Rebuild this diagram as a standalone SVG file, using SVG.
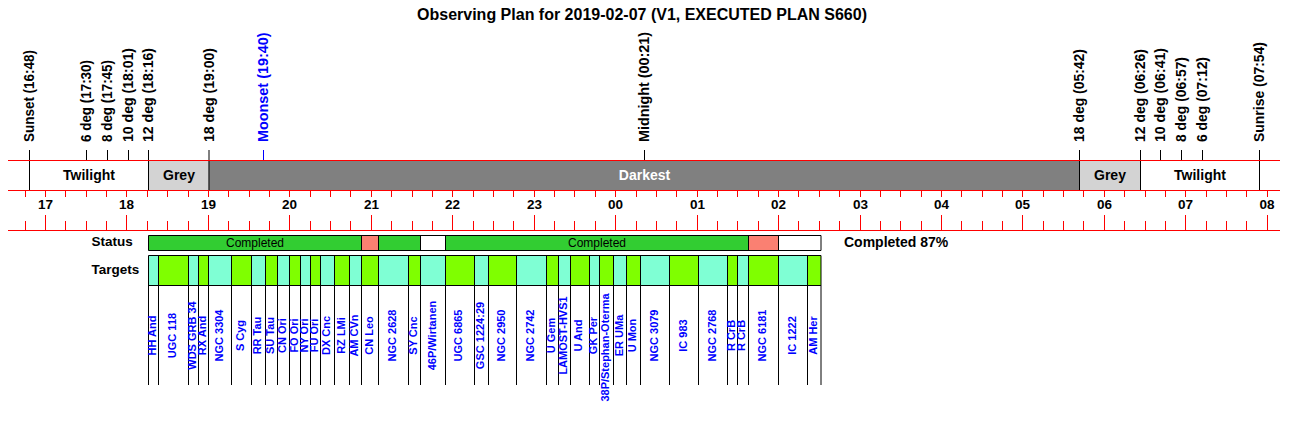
<svg xmlns="http://www.w3.org/2000/svg" width="1299" height="439" viewBox="0 0 1299 439">
<style>
text{font-family:"Liberation Sans",Arial,Helvetica,sans-serif;font-weight:bold;fill:#000}
.title{font-size:16px;text-anchor:middle}
.mk{font-size:14px}
.blue{fill:#0000ff}
.hr{font-size:13.5px;text-anchor:middle}
.band{font-size:14px;text-anchor:middle}
.lbl{font-size:13.5px}
.st{font-size:12px;font-weight:normal;text-anchor:middle}
.pct{font-size:14px}
.tg{font-size:11px;fill:#0000ff;text-anchor:middle}
.red{stroke:#ff0000;stroke-width:1;fill:none}
.blk{stroke:#000;stroke-width:1;fill:none}
.bl{stroke:#0000ff;stroke-width:1;fill:none}
.g{fill:#7fff00}
.a{fill:#7fffd4}
.sg{fill:#32cd32}
.ss{fill:#fa8072}
.sw{fill:#fff}
</style>
<rect width="1299" height="439" fill="#fff"/>
<text class="title" x="642" y="20">Observing Plan for 2019-02-07 (V1, EXECUTED PLAN S660)</text>

<g id="bands">
<rect x="148.5" y="160.5" width="60" height="30" fill="#d3d3d3"/>
<rect x="208.5" y="160.5" width="871" height="30" fill="#808080"/>
<rect x="1079.5" y="160.5" width="61" height="30" fill="#d3d3d3"/>
<text class="band" x="89" y="179.5">Twilight</text>
<text class="band" x="179" y="179.5">Grey</text>
<text class="band" x="644.5" y="179.5" style="fill:#fff">Darkest</text>
<text class="band" x="1110" y="179.5">Grey</text>
<text class="band" x="1200" y="179.5">Twilight</text>
</g>

<g id="markers">
<path class="blk" d="M29.5 150V190M86.5 150V160M107.5 150V160M128.5 150V160M148.5 150V190M209 150V190M644.5 150V160M1079.5 150V190M1140.5 150V190M1160.5 150V160M1181.5 150V160M1202.5 150V160M1259.5 150V190"/>
<path class="bl" d="M263.5 150V160"/>
<text class="mk" transform="translate(34.3,142) rotate(-90)" textLength="92" lengthAdjust="spacingAndGlyphs">Sunset (16:48)</text>
<text class="mk" transform="translate(91.3,142) rotate(-90)" textLength="82" lengthAdjust="spacingAndGlyphs">6 deg (17:30)</text>
<text class="mk" transform="translate(112.3,142) rotate(-90)" textLength="82" lengthAdjust="spacingAndGlyphs">8 deg (17:45)</text>
<text class="mk" transform="translate(133.3,142) rotate(-90)" textLength="94" lengthAdjust="spacingAndGlyphs">10 deg (18:01)</text>
<text class="mk" transform="translate(153.3,142) rotate(-90)" textLength="94" lengthAdjust="spacingAndGlyphs">12 deg (18:16)</text>
<text class="mk" transform="translate(214,142) rotate(-90)" textLength="94" lengthAdjust="spacingAndGlyphs">18 deg (19:00)</text>
<text class="mk blue" transform="translate(268.3,142) rotate(-90)" textLength="109.5" lengthAdjust="spacingAndGlyphs">Moonset (19:40)</text>
<text class="mk" transform="translate(649.3,142) rotate(-90)" textLength="110" lengthAdjust="spacingAndGlyphs">Midnight (00:21)</text>
<text class="mk" transform="translate(1084.3,142) rotate(-90)" textLength="93" lengthAdjust="spacingAndGlyphs">18 deg (05:42)</text>
<text class="mk" transform="translate(1145.3,142) rotate(-90)" textLength="93" lengthAdjust="spacingAndGlyphs">12 deg (06:26)</text>
<text class="mk" transform="translate(1165.3,142) rotate(-90)" textLength="94" lengthAdjust="spacingAndGlyphs">10 deg (06:41)</text>
<text class="mk" transform="translate(1186.3,142) rotate(-90)" textLength="85" lengthAdjust="spacingAndGlyphs">8 deg (06:57)</text>
<text class="mk" transform="translate(1207.3,142) rotate(-90)" textLength="85" lengthAdjust="spacingAndGlyphs">6 deg (07:12)</text>
<text class="mk" transform="translate(1264.3,142) rotate(-90)" textLength="100" lengthAdjust="spacingAndGlyphs">Sunrise (07:54)</text>
</g>

<g id="axis">
<path class="red" d="M8 160.5H1280M8 190.5H1280M8 230.5H1280"/>
<path class="red" d="M25.5 191v6M45.5 191v6M65.5 191v6M86.5 191v6M106.5 191v6M126.5 191v6M147.5 191v6M167.5 191v6M188.5 191v6M208.5 191v6M228.5 191v6M249.5 191v6M269.5 191v6M289.5 191v6M310.5 191v6M330.5 191v6M350.5 191v6M371.5 191v6M391.5 191v6M412.5 191v6M432.5 191v6M452.5 191v6M473.5 191v6M493.5 191v6M513.5 191v6M534.5 191v6M554.5 191v6M574.5 191v6M595.5 191v6M615.5 191v6M636.5 191v6M656.5 191v6M676.5 191v6M697.5 191v6M717.5 191v6M737.5 191v6M758.5 191v6M778.5 191v6M798.5 191v6M819.5 191v6M839.5 191v6M860.5 191v6M880.5 191v6M900.5 191v6M921.5 191v6M941.5 191v6M961.5 191v6M982.5 191v6M1002.5 191v6M1022.5 191v6M1043.5 191v6M1063.5 191v6M1083.5 191v6M1104.5 191v6M1124.5 191v6M1145.5 191v6M1165.5 191v6M1185.5 191v6M1206.5 191v6M1226.5 191v6M1246.5 191v6M1267.5 191v6"/>
<path class="red" d="M25.5 221v9M65.5 221v9M86.5 221v9M106.5 221v9M147.5 221v9M167.5 221v9M188.5 221v9M228.5 221v9M249.5 221v9M269.5 221v9M310.5 221v9M330.5 221v9M350.5 221v9M391.5 221v9M412.5 221v9M432.5 221v9M473.5 221v9M493.5 221v9M513.5 221v9M554.5 221v9M574.5 221v9M595.5 221v9M636.5 221v9M656.5 221v9M676.5 221v9M717.5 221v9M737.5 221v9M758.5 221v9M798.5 221v9M819.5 221v9M839.5 221v9M880.5 221v9M900.5 221v9M921.5 221v9M961.5 221v9M982.5 221v9M1002.5 221v9M1043.5 221v9M1063.5 221v9M1083.5 221v9M1124.5 221v9M1145.5 221v9M1165.5 221v9M1206.5 221v9M1226.5 221v9M1246.5 221v9"/>
<path class="red" d="M45.5 215v15M126.5 215v15M208.5 215v15M289.5 215v15M371.5 215v15M452.5 215v15M534.5 215v15M615.5 215v15M697.5 215v15M778.5 215v15M860.5 215v15M941.5 215v15M1022.5 215v15M1104.5 215v15M1185.5 215v15M1267.5 215v15"/>
<text class="hr" x="45.5" y="209">17</text>
<text class="hr" x="126.5" y="209">18</text>
<text class="hr" x="208.5" y="209">19</text>
<text class="hr" x="289.5" y="209">20</text>
<text class="hr" x="371.5" y="209">21</text>
<text class="hr" x="452.5" y="209">22</text>
<text class="hr" x="534.5" y="209">23</text>
<text class="hr" x="615.5" y="209">00</text>
<text class="hr" x="697.5" y="209">01</text>
<text class="hr" x="778.5" y="209">02</text>
<text class="hr" x="860.5" y="209">03</text>
<text class="hr" x="941.5" y="209">04</text>
<text class="hr" x="1022.5" y="209">05</text>
<text class="hr" x="1104.5" y="209">06</text>
<text class="hr" x="1185.5" y="209">07</text>
<text class="hr" x="1267" y="209">08</text>
</g>

<g id="status">
<text class="lbl" x="91.5" y="246">Status</text>
<rect class="sg" x="148.5" y="235.5" width="213" height="15"/>
<rect class="ss" x="361.5" y="235.5" width="17" height="15"/>
<rect class="sg" x="378.5" y="235.5" width="42" height="15"/>
<rect class="sw" x="420.5" y="235.5" width="25" height="15"/>
<rect class="sg" x="445.5" y="235.5" width="303" height="15"/>
<rect class="ss" x="748.5" y="235.5" width="30" height="15"/>
<rect class="sw" x="778.5" y="235.5" width="42.5" height="15"/>
<path class="blk" d="M148.5 235.5H821V250.5H148.5ZM361.5 235.5V250.5M378.5 235.5V250.5M420.5 235.5V250.5M445.5 235.5V250.5M748.5 235.5V250.5M778.5 235.5V250.5"/>
<text class="st" x="255" y="247">Completed</text>
<text class="st" x="597" y="247">Completed</text>
<text class="pct" x="844" y="246.5">Completed 87%</text>
</g>

<g id="targets">
<text class="lbl" x="91.5" y="273.5">Targets</text>
<g id="target-fills">
<rect class="a" x="148.5" y="255.5" width="10" height="30"/>
<rect class="g" x="158.5" y="255.5" width="30" height="30"/>
<rect class="a" x="188.5" y="255.5" width="10" height="30"/>
<rect class="g" x="198.5" y="255.5" width="10" height="30"/>
<rect class="a" x="208.5" y="255.5" width="23" height="30"/>
<rect class="g" x="231.5" y="255.5" width="20" height="30"/>
<rect class="a" x="251.5" y="255.5" width="14" height="30"/>
<rect class="g" x="265.5" y="255.5" width="12" height="30"/>
<rect class="a" x="277.5" y="255.5" width="12" height="30"/>
<rect class="g" x="289.5" y="255.5" width="11" height="30"/>
<rect class="a" x="300.5" y="255.5" width="10" height="30"/>
<rect class="g" x="310.5" y="255.5" width="10" height="30"/>
<rect class="a" x="320.5" y="255.5" width="14" height="30"/>
<rect class="g" x="334.5" y="255.5" width="15" height="30"/>
<rect class="a" x="349.5" y="255.5" width="12" height="30"/>
<rect class="g" x="361.5" y="255.5" width="17" height="30"/>
<rect class="a" x="378.5" y="255.5" width="30" height="30"/>
<rect class="g" x="408.5" y="255.5" width="12" height="30"/>
<rect class="a" x="420.5" y="255.5" width="25" height="30"/>
<rect class="g" x="445.5" y="255.5" width="29" height="30"/>
<rect class="a" x="474.5" y="255.5" width="14" height="30"/>
<rect class="g" x="488.5" y="255.5" width="28" height="30"/>
<rect class="a" x="516.5" y="255.5" width="30" height="30"/>
<rect class="g" x="546.5" y="255.5" width="12" height="30"/>
<rect class="a" x="558.5" y="255.5" width="12" height="30"/>
<rect class="g" x="570.5" y="255.5" width="19" height="30"/>
<rect class="a" x="589.5" y="255.5" width="10" height="30"/>
<rect class="g" x="599.5" y="255.5" width="14" height="30"/>
<rect class="a" x="613.5" y="255.5" width="13" height="30"/>
<rect class="g" x="626.5" y="255.5" width="14" height="30"/>
<rect class="a" x="640.5" y="255.5" width="29" height="30"/>
<rect class="g" x="669.5" y="255.5" width="29" height="30"/>
<rect class="a" x="698.5" y="255.5" width="29" height="30"/>
<rect class="g" x="727.5" y="255.5" width="10" height="30"/>
<rect class="a" x="737.5" y="255.5" width="11" height="30"/>
<rect class="g" x="748.5" y="255.5" width="30" height="30"/>
<rect class="a" x="778.5" y="255.5" width="29" height="30"/>
<rect class="g" x="807.5" y="255.5" width="13.5" height="30"/>
</g>
<path class="blk" d="M148.5 255.5H821M148.5 285.5H821M148.5 255.5V385M158.5 255.5V385M188.5 255.5V385M198.5 255.5V385M208.5 255.5V385M231.5 255.5V385M251.5 255.5V385M265.5 255.5V385M277.5 255.5V385M289.5 255.5V385M300.5 255.5V385M310.5 255.5V385M320.5 255.5V385M334.5 255.5V385M349.5 255.5V385M361.5 255.5V385M378.5 255.5V385M408.5 255.5V385M420.5 255.5V385M445.5 255.5V385M474.5 255.5V385M488.5 255.5V385M516.5 255.5V385M546.5 255.5V385M558.5 255.5V385M570.5 255.5V385M589.5 255.5V385M599.5 255.5V385M613.5 255.5V385M626.5 255.5V385M640.5 255.5V385M669.5 255.5V385M698.5 255.5V385M727.5 255.5V385M737.5 255.5V385M748.5 255.5V385M778.5 255.5V385M807.5 255.5V385M821 255.5V385"/>
<g id="target-labels">
<text class="tg" transform="translate(155.9,335.5) rotate(-90)">HH And</text>
<text class="tg" transform="translate(175.9,335.5) rotate(-90)">UGC 118</text>
<text class="tg" transform="translate(196.1,335.5) rotate(-90)">WDS GRB 34</text>
<text class="tg" transform="translate(206.1,335.5) rotate(-90)">RX And</text>
<text class="tg" transform="translate(222.6,335.5) rotate(-90)">NGC 3304</text>
<text class="tg" transform="translate(244.3,335.5) rotate(-90)">S Cyg</text>
<text class="tg" transform="translate(261.3,335.5) rotate(-90)">RR Tau</text>
<text class="tg" transform="translate(274.3,335.5) rotate(-90)">SU Tau</text>
<text class="tg" transform="translate(286.3,335.5) rotate(-90)">CN Ori</text>
<text class="tg" transform="translate(297.6,335.5) rotate(-90)">FO Ori</text>
<text class="tg" transform="translate(308.1,335.5) rotate(-90)">NY Ori</text>
<text class="tg" transform="translate(318.3,335.5) rotate(-90)">FU Ori</text>
<text class="tg" transform="translate(330.3,335.5) rotate(-90)">DX Cnc</text>
<text class="tg" transform="translate(344.8,335.5) rotate(-90)">RZ LMi</text>
<text class="tg" transform="translate(358.3,335.5) rotate(-90)">AM CVn</text>
<text class="tg" transform="translate(372.8,335.5) rotate(-90)">CN Leo</text>
<text class="tg" transform="translate(396.1,335.5) rotate(-90)">NGC 2628</text>
<text class="tg" transform="translate(417.1,335.5) rotate(-90)">SY Cnc</text>
<text class="tg" transform="translate(435.8,335.5) rotate(-90)">46P/Wirtanen</text>
<text class="tg" transform="translate(462.4,335.5) rotate(-90)">UGC 6865</text>
<text class="tg" transform="translate(483.9,335.5) rotate(-90)">GSC 1224:29</text>
<text class="tg" transform="translate(505.1,335.5) rotate(-90)">NGC 2950</text>
<text class="tg" transform="translate(534.3,335.5) rotate(-90)">NGC 2742</text>
<text class="tg" transform="translate(555.1,335.5) rotate(-90)">U Gem</text>
<text class="tg" transform="translate(566.9,335.5) rotate(-90)">LAMOST-HVS1</text>
<text class="tg" transform="translate(582.4,335.5) rotate(-90)">U And</text>
<text class="tg" transform="translate(597.1,335.5) rotate(-90)">GK Per</text>
<text class="tg" transform="translate(609.1,347.5) rotate(-90)">38P/Stephan-Oterma</text>
<text class="tg" transform="translate(622.6,335.5) rotate(-90)">ER UMa</text>
<text class="tg" transform="translate(636.3,335.5) rotate(-90)">U Mon</text>
<text class="tg" transform="translate(657.8,335.5) rotate(-90)">NGC 3079</text>
<text class="tg" transform="translate(686.8,335.5) rotate(-90)">IC 983</text>
<text class="tg" transform="translate(715.6,335.5) rotate(-90)">NGC 2768</text>
<text class="tg" transform="translate(734.9,335.5) rotate(-90)">R CrB</text>
<text class="tg" transform="translate(745.4,335.5) rotate(-90)">R CrB</text>
<text class="tg" transform="translate(766.1,335.5) rotate(-90)">NGC 6181</text>
<text class="tg" transform="translate(795.6,335.5) rotate(-90)">IC 1222</text>
<text class="tg" transform="translate(816.8,335.5) rotate(-90)">AM Her</text>
</g>
</g>
</svg>
